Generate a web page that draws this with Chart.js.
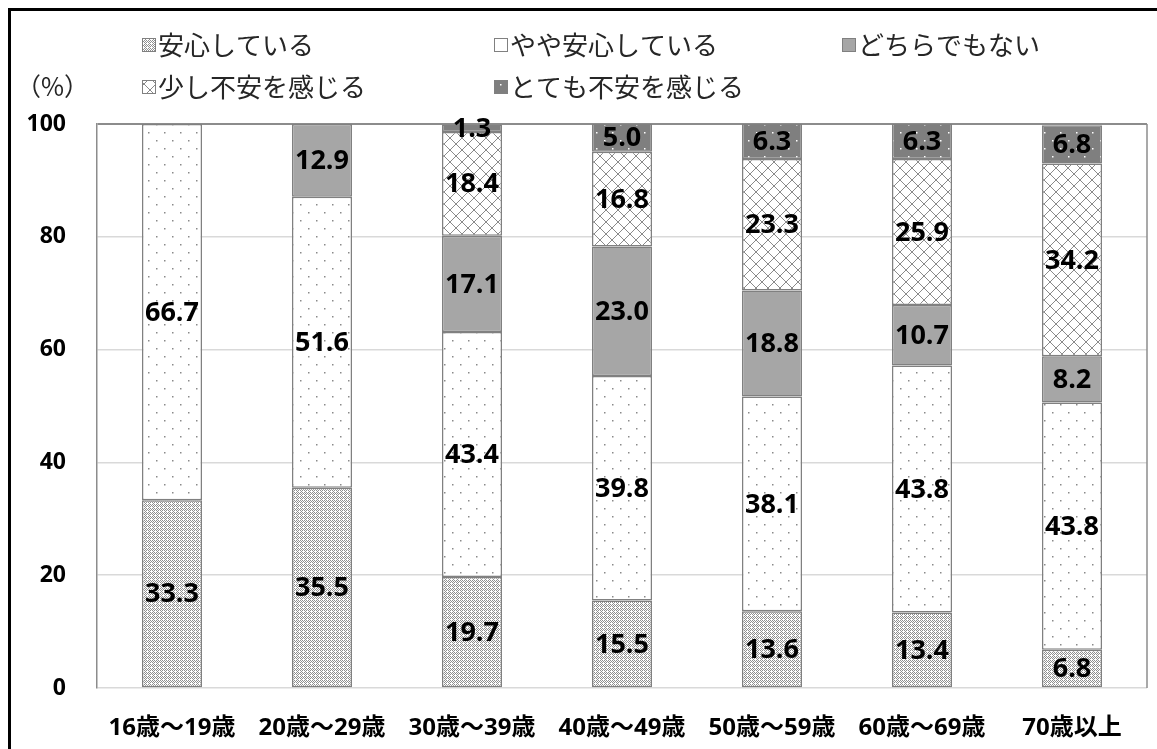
<!DOCTYPE html>
<html lang="ja">
<head>
<meta charset="utf-8">
<title>年代別 安心感</title>
<script src="https://cdn.jsdelivr.net/npm/chart.js@4/dist/chart.umd.min.js"></script>
<style>
  html, body { margin: 0; padding: 0; background: #fff; }
  #wrap { width: 1157px; height: 749px; position: relative; }
</style>
</head>
<body>
<div id="wrap"><canvas id="chart" width="1157" height="749"></canvas></div>
<script>
// age groups and answer shares (%)
const ageGroups = ["16歳～19歳", "20歳～29歳", "30歳～39歳", "40歳～49歳", "50歳～59歳", "60歳～69歳", "70歳以上"];
const seriesNames = ["安心している", "やや安心している", "どちらでもない", "少し不安を感じる", "とても不安を感じる"];
const anshin      = [33.3, 35.5, 19.7, 15.5, 13.6, 13.4, 6.8];
const yayaAnshin  = [66.7, 51.6, 43.4, 39.8, 38.1, 43.8, 43.8];
const dochiraMo   = [0, 12.9, 17.1, 23.0, 18.8, 10.7, 8.2];
const sukoshiFuan = [0, 0, 18.4, 16.8, 23.3, 25.9, 34.2];
const totemoFuan  = [0, 0, 1.3, 5.0, 6.3, 6.3, 6.8];
const yTicks = [0, 20, 40, 60, 80, 100];

const NUM_FONT = '"Open Sans", "Noto Sans CJK JP", sans-serif';
const JP_FONT = '"Noto Sans CJK JP", sans-serif';

// small tiles used as fill patterns
function tile(w, h, draw) {
  const c = document.createElement("canvas");
  c.width = w; c.height = h;
  const g = c.getContext("2d");
  draw(g);
  return document.getElementById("chart").getContext("2d").createPattern(c, "repeat");
}

const patChecker = tile(4, 4, g => {
  g.fillStyle = "#fff"; g.fillRect(0, 0, 4, 4);
  g.fillStyle = "#8f8f8f";
  [[0,0],[2,0],[1,1],[3,1],[0,2],[2,2],[1,3]].forEach(([x, y]) => g.fillRect(x, y, 1, 1));
});
const patDots = tile(16, 16, g => {
  g.fillStyle = "#fff"; g.fillRect(0, 0, 16, 16);
  g.fillStyle = "#8a8a8a";
  g.fillRect(4, 4, 1.5, 1.5);
  g.fillRect(12, 12, 1.5, 1.5);
});
const patLattice = tile(12, 12, g => {
  g.fillStyle = "#fff"; g.fillRect(0, 0, 12, 12);
  g.strokeStyle = "#8a8a8a"; g.lineWidth = 1;
  g.beginPath();
  g.moveTo(0, 0); g.lineTo(12, 12);
  g.moveTo(12, 0); g.lineTo(0, 12);
  g.stroke();
});
const patDarkDots = tile(16, 16, g => {
  g.fillStyle = "#7f7f7f"; g.fillRect(0, 0, 16, 16);
  g.fillStyle = "#fff";
  g.fillRect(4, 4, 1.5, 1.5);
  g.fillRect(12, 12, 1.5, 1.5);
});

const seriesValues = [anshin, yayaAnshin, dochiraMo, sukoshiFuan, totemoFuan];
const fills = [patChecker, patDots, "#a6a6a6", patLattice, patDarkDots];

const datasets = seriesNames.map((name, i) => ({
  label: name,
  data: seriesValues[i].map(v => (v === 0 ? null : v)),
  backgroundColor: fills[i],
  borderColor: "#808080",
  borderWidth: 1.5,
  borderSkipped: false,
  barPercentage: 0.4,
  categoryPercentage: 1.0
}));

// value labels in the middle of each segment
const valueLabels = {
  id: "valueLabels",
  afterDatasetsDraw(chart) {
    const ctx = chart.ctx;
    ctx.save();
    ctx.font = "bold 27px " + NUM_FONT;
    ctx.fillStyle = "#000";
    ctx.textAlign = "center";
    ctx.textBaseline = "middle";
    chart.data.datasets.forEach((ds, i) => {
      chart.getDatasetMeta(i).data.forEach((bar, j) => {
        const v = ds.data[j];
        if (v == null) return;
        const mid = (bar.y + bar.base) / 2;
        ctx.fillText(v.toFixed(1), bar.x, mid + 1);
      });
    });
    ctx.restore();
  }
};

// legend in two rows, three columns, plus the unit label and outer frame
const frameAndLegend = {
  id: "frameAndLegend",
  afterDraw(chart) {
    const ctx = chart.ctx;
    const area = chart.chartArea;
    ctx.save();
    // right edge of the plot area
    ctx.strokeStyle = "#8c8c8c";
    ctx.lineWidth = 1.5;
    ctx.beginPath();
    ctx.moveTo(area.right, area.top);
    ctx.lineTo(area.right, area.bottom);
    ctx.stroke();

    // outer frame
    ctx.strokeStyle = "#000";
    ctx.lineWidth = 3;
    ctx.strokeRect(9.5, 9.5, 1200, 800);

    const cols = [142, 494, 842];
    const rows = [45, 87];
    ctx.textBaseline = "middle";
    ctx.textAlign = "left";
    chart.data.datasets.forEach((ds, i) => {
      const x = cols[i % 3];
      const y = rows[Math.floor(i / 3)];
      ctx.fillStyle = ds.backgroundColor;
      ctx.fillRect(x, y - 7, 14, 14);
      ctx.strokeStyle = "#808080";
      ctx.lineWidth = 1;
      ctx.strokeRect(x + 0.5, y - 6.5, 13, 13);
      ctx.fillStyle = "#262626";
      ctx.font = "26px " + JP_FONT;
      ctx.fillText(ds.label, x + 16, y);
    });
    ctx.font = "25px " + JP_FONT;
    ctx.fillStyle = "#262626";
    ctx.fillText("（%）", 16, 86);
    ctx.restore();
  }
};

new Chart(document.getElementById("chart"), {
  type: "bar",
  data: { labels: ageGroups, datasets: datasets },
  options: {
    responsive: false,
    animation: false,
    layout: { padding: { top: 124, right: 10, left: 0, bottom: 0 } },
    plugins: {
      legend: { display: false },
      tooltip: { enabled: false }
    },
    scales: {
      x: {
        stacked: true,
        grid: { display: false },
        border: { display: false },
        ticks: {
          color: "#000",
          font: { family: NUM_FONT, size: 24, weight: "bold" },
          padding: 18,
          maxRotation: 0
        },
        afterFit(scale) { scale.height = 61; }
      },
      y: {
        stacked: true,
        min: 0,
        max: 100,
        afterBuildTicks(scale) { scale.ticks = yTicks.map(v => ({ value: v })); },
        grid: {
          color: c => (c.tick && c.tick.value === 100 ? "#8c8c8c" : "#d9d9d9"),
          lineWidth: c => (c.tick && c.tick.value === 100 ? 2 : 1.5),
          drawTicks: false
        },
        border: { color: "#8c8c8c", width: 1.5 },
        ticks: {
          color: "#000",
          font: { family: NUM_FONT, size: 23, weight: "bold" },
          padding: 31
        },
        afterFit(scale) { scale.width = 97; }
      }
    }
  },
  plugins: [valueLabels, frameAndLegend]
});
</script>
</body>
</html>
